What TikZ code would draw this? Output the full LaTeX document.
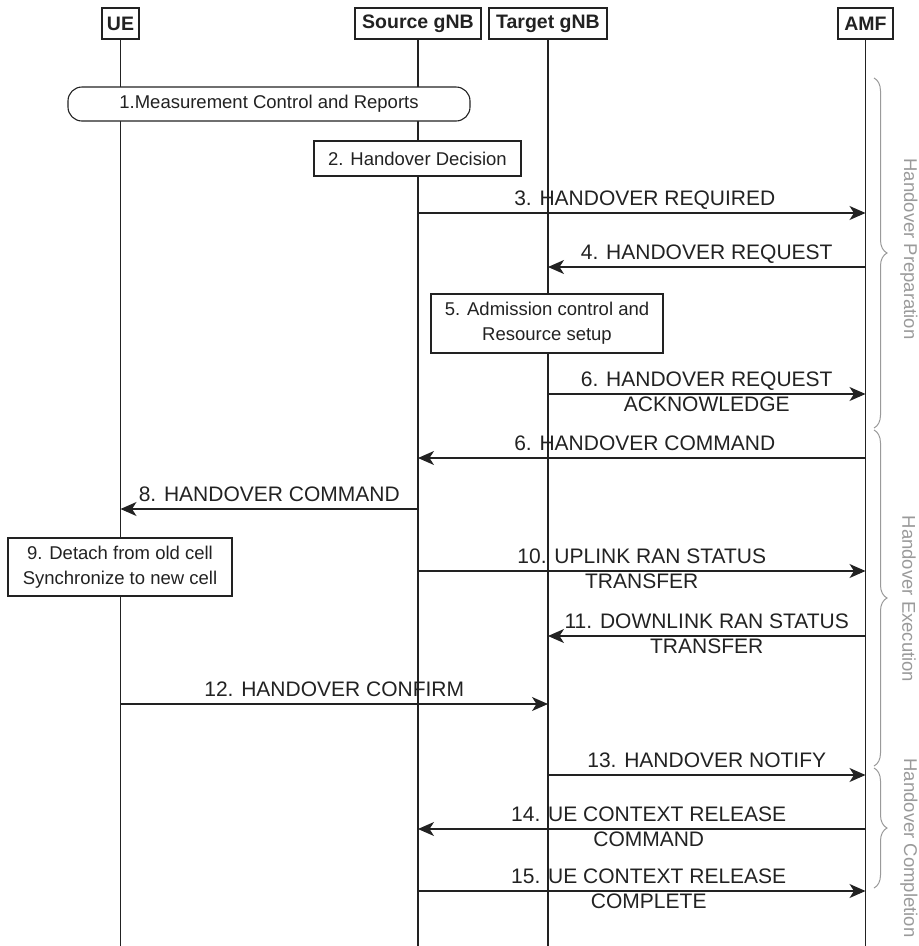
\documentclass[tikz,border=0pt]{standalone}
\usepackage{fontspec}
\setmainfont{Liberation Sans}
\usetikzlibrary{arrows.meta,decorations.pathreplacing,calc}
\definecolor{ink}{HTML}{222222}
\definecolor{phasegray}{HTML}{9A9A9A}
\begin{document}
\begin{tikzpicture}[x=1pt,y=1pt,
  every node/.style={inner sep=0pt, outer sep=0pt},
  head/.style={draw=ink, line width=1.1pt, fill=white, text=ink,
    font=\fontsize{19.5}{22}\selectfont\bfseries, minimum height=31pt},
  life/.style={draw=ink, line width=1.2pt},
  actbox/.style={draw=ink, line width=1.1pt, fill=white, text=ink,
    font=\fontsize{18.5}{25}\selectfont, align=center},
  msg/.style={draw=ink, line width=1.2pt,
    -{Stealth[length=16pt,width=14pt,inset=4.5pt]}},
  lbl/.style={text=ink, font=\fontsize{21}{25}\selectfont, align=center},
  onelbl/.style={lbl, midway, anchor=base, yshift=8pt},
  twolbl/.style={lbl, midway, anchor=center, yshift=2pt},
  phase/.style={draw=phasegray, line width=1pt, decorate,
    decoration={brace, amplitude=13pt}},
  phasetxt/.style={text=phasegray, font=\fontsize{18.5}{20}\selectfont, rotate=-90}
]
\useasboundingbox (0,0) rectangle (919,-946);

% lifeline heads
\node[head, minimum width=37pt]  (ue)  at (120.5,-23.5) {UE};
\node[head, minimum width=126pt] (src) at (418,-23.5)   {Source gNB};
\node[head, minimum width=118pt] (tgt) at (548,-23.5)   {Target gNB};
\node[head, minimum width=55pt]  (amf) at (865.5,-23.5) {AMF};

% lifeline bottoms
\coordinate (ueEnd)  at (120.5,-946);
\coordinate (srcEnd) at (418,-946);
\coordinate (tgtEnd) at (548,-946);
\coordinate (amfEnd) at (865.5,-946);

\draw[life] (ue.south)  -- (ueEnd);
\draw[life] (src.south) -- (srcEnd);
\draw[life] (tgt.south) -- (tgtEnd);
\draw[life] (amf.south) -- (amfEnd);

% activity boxes
\node[actbox, rounded corners=14pt, minimum width=402pt, minimum height=34pt]
  (meas) at (269,-104) {1.Measurement Control and Reports};
\node[actbox, minimum width=207pt, minimum height=35pt]
  (hodec) at (417.5,-158.5) {2. Handover Decision};
\node[actbox, minimum width=232pt, minimum height=59pt]
  (admit) at (547,-323.5) {5. Admission control and\\Resource setup};
\node[actbox, minimum width=224pt, minimum height=58pt]
  (detach) at (120,-567) {9. Detach from old cell\\Synchronize to new cell};

% message end points
\coordinate (m3a)  at (418,-213);   \coordinate (m3b)  at (865.5,-213);
\coordinate (m4a)  at (865.5,-267); \coordinate (m4b)  at (548,-267);
\coordinate (m6a)  at (548,-394);   \coordinate (m6b)  at (865.5,-394);
\coordinate (m7a)  at (865.5,-458); \coordinate (m7b)  at (418,-458);
\coordinate (m8a)  at (418,-509);   \coordinate (m8b)  at (120.5,-509);
\coordinate (m10a) at (418,-571);   \coordinate (m10b) at (865.5,-571);
\coordinate (m11a) at (865.5,-636); \coordinate (m11b) at (548,-636);
\coordinate (m12a) at (120.5,-704); \coordinate (m12b) at (548,-704);
\coordinate (m13a) at (548,-775);   \coordinate (m13b) at (865.5,-775);
\coordinate (m14a) at (865.5,-829); \coordinate (m14b) at (418,-829);
\coordinate (m15a) at (418,-891);   \coordinate (m15b) at (865.5,-891);

% messages
\draw[msg] (m3a) -- node[onelbl, xshift=3pt] (l3) {3. HANDOVER REQUIRED} (m3b);
\draw[msg] (m4a) -- node[onelbl] (l4) {4. HANDOVER REQUEST} (m4b);
\draw[msg] (m6a) -- node[twolbl] (l6) {6. HANDOVER REQUEST\\ACKNOWLEDGE} (m6b);
\draw[msg] (m7a) -- node[onelbl, xshift=3pt] (l7) {6. HANDOVER COMMAND} (m7b);
\draw[msg] (m8a) -- node[onelbl] (l8) {8. HANDOVER COMMAND} (m8b);
\draw[msg] (m10a) -- node[twolbl] (l10) {10. UPLINK RAN STATUS\\TRANSFER} (m10b);
\draw[msg] (m11a) -- node[twolbl] (l11) {11. DOWNLINK RAN STATUS\\TRANSFER} (m11b);
\draw[msg] (m12a) -- node[onelbl] (l12) {12. HANDOVER CONFIRM} (m12b);
\draw[msg] (m13a) -- node[onelbl] (l13) {13. HANDOVER NOTIFY} (m13b);
\draw[msg] (m14a) -- node[twolbl, xshift=7pt] (l14) {14. UE CONTEXT RELEASE\\COMMAND} (m14b);
\draw[msg] (m15a) -- node[twolbl, xshift=7pt] (l15) {15. UE CONTEXT RELEASE\\COMPLETE} (m15b);

% handover phases
\coordinate (p1a) at (874,-78);  \coordinate (p1b) at (874,-428);
\coordinate (p2a) at (874,-430); \coordinate (p2b) at (874,-766);
\coordinate (p3a) at (874,-768); \coordinate (p3b) at (874,-888);
\draw[phase] (p1a) -- (p1b);
\draw[phase] (p2a) -- (p2b);
\draw[phase] (p3a) -- (p3b);
\node[phasetxt] (ph1) at (909,-249) {Handover Preparation};
\node[phasetxt] (ph2) at (909,-599) {Handover Execution};
\node[phasetxt] (ph3) at (909,-848) {Handover Completion};
\end{tikzpicture}
\end{document}
